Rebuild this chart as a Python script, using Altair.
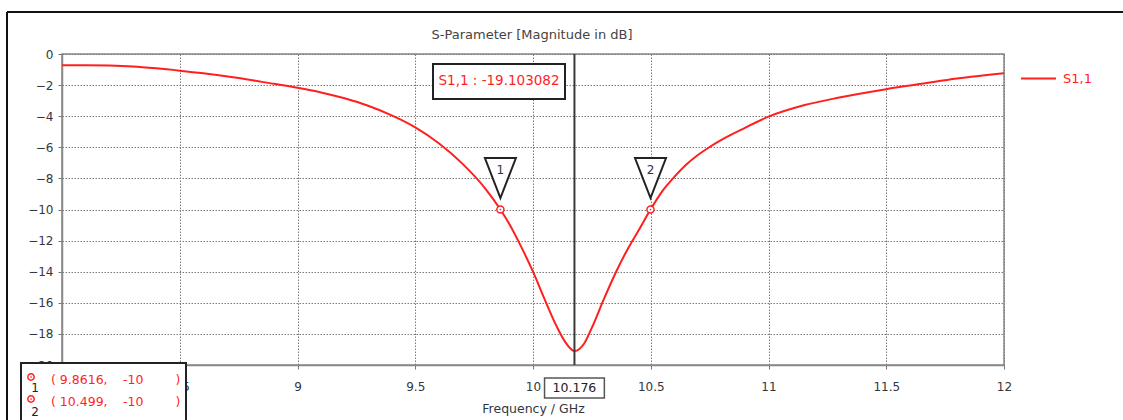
import altair as alt
import pandas as pd

# ---------------- data ----------------
freq = [8.0, 8.1, 8.2, 8.3, 8.4, 8.5, 8.6, 8.75, 8.9, 9.0, 9.1, 9.2, 9.3, 9.4, 9.5,
        9.6, 9.7, 9.8, 9.8616, 9.9, 9.95, 10.0, 10.05, 10.1, 10.136, 10.176,
        10.218, 10.25, 10.3, 10.35, 10.4, 10.45, 10.499, 10.55, 10.6, 10.65, 10.7,
        10.75, 10.8, 10.88, 11.0, 11.15, 11.3, 11.5, 11.65, 11.8, 12.0]
s11 = [-0.72, -0.72, -0.74, -0.80, -0.92, -1.07, -1.24, -1.55, -1.92, -2.17, -2.47,
       -2.85, -3.33, -3.95, -4.72, -5.74, -7.05, -8.70, -10.0, -10.95, -12.4, -14.0,
       -15.8, -17.5, -18.5, -19.103, -18.6, -17.6, -15.8, -14.1, -12.6, -11.3, -10.0,
       -8.8, -7.9, -7.12, -6.5, -5.98, -5.52, -4.90, -4.03, -3.30, -2.80, -2.26,
       -1.92, -1.58, -1.24]
series_name = "S1,1"

x_ticks = [8, 8.5, 9, 9.5, 10, 10.5, 11, 11.5, 12]
y_ticks = [0, -2, -4, -6, -8, -10, -12, -14, -16, -18, -20]

marker_ids = ["1", "2"]
marker_freq = [9.8616, 10.499]
marker_val = [-10, -10]

min_freq = 10.176
min_val = -19.103082

chart_title = "S-Parameter [Magnitude in dB]"
x_title = "Frequency / GHz"

# ---------------- style ----------------
FONT = "DejaVu Sans"
RED = "#ff1f1f"
GRID = "#7a7a7a"
TXT = "#333840"

curve_df = pd.DataFrame({"f": freq, "s": s11, "series": series_name})
mk_df = pd.DataFrame({"id": marker_ids, "f": marker_freq, "s": marker_val})
mk_df["fx"] = [f"( {f}," for f in marker_freq]
mk_df["vy"] = [f"{v}" for v in marker_val]
mk_df["row"] = [0, 1]

xs = alt.Scale(domain=[8, 12], nice=False, zero=False)
ys = alt.Scale(domain=[-20, 0], nice=False, zero=False)

# the "8" label sits fully under the marker table, as in the original
x_axis = alt.Axis(values=x_ticks, format="~g", title=x_title,
                  labelExpr="datum.value == 8 ? '' : datum.label",
                  grid=True, gridDash=[1.5, 1.5], gridColor=GRID, gridWidth=1,
                  tickSize=4, tickColor="#777", labelPadding=12, titlePadding=10,
                  labelFontSize=12, titleFontSize=12.5, labelColor=TXT, titleColor=TXT,
                  titleFontWeight="normal", domainColor="#888", domainWidth=1.5,
                  labelFlush=False, labelFont=FONT, titleFont=FONT)
y_axis = alt.Axis(values=y_ticks, title=None,
                  grid=True, gridDash=[1.5, 1.5], gridColor=GRID, gridWidth=1,
                  tickSize=4, tickColor="#777", labelPadding=5,
                  labelFontSize=12, labelColor=TXT, domainColor="#888", domainWidth=1.5,
                  labelFlush=False, labelFont=FONT)


def X(field):
    return alt.X(field, scale=xs, axis=x_axis)


def row_y(a, b):
    return alt.Y("row:Q", scale=alt.Scale(domain=[0, 1], range=[a, b]), axis=None)


curve = alt.Chart(curve_df).mark_line(strokeWidth=2, interpolate="monotone").encode(
    x=X("f:Q"),
    y=alt.Y("s:Q", scale=ys, axis=y_axis),
    color=alt.Color("series:N", scale=alt.Scale(range=[RED]),
                    legend=alt.Legend(title=None, orient="none", legendX=958, legendY=6,
                                      symbolType="stroke", symbolSize=1225,
                                      symbolStrokeWidth=2, labelColor=RED,
                                      labelFontSize=13, labelFont=FONT, padding=0,
                                      labelOffset=6)),
)

vline = alt.Chart(pd.DataFrame({"f": [min_freq]})).mark_rule(
    color="#3a3a3a", strokeWidth=2).encode(x=X("f:Q"))

circles = alt.Chart(mk_df).mark_circle(size=50, fill="white", stroke=RED,
                                        strokeWidth=1.5, opacity=1).encode(
    x=X("f:Q"), y=alt.Y("s:Q", scale=ys, axis=None))
dots = alt.Chart(mk_df).mark_circle(size=3, color=RED, opacity=1).encode(
    x=X("f:Q"), y=alt.Y("s:Q", scale=ys, axis=None))

tri = alt.Chart(mk_df).mark_point(shape="M -0.775 -1 L 0.775 -1 L 0 1 Z", size=1600,
                                   filled=True, fill="white", stroke="#222",
                                   strokeWidth=2, opacity=1).encode(
    x=X("f:Q"), y=alt.value(124))
tri_txt = alt.Chart(mk_df).mark_text(font=FONT, fontSize=12, color="#334").encode(
    x=X("f:Q"), y=alt.value(116), text="id:N")

# readout box of the minimum
ro_df = pd.DataFrame({"t": [f"{series_name} : {min_val:.6f}"]})
ro_box = alt.Chart(ro_df).mark_rect(fill="white", stroke="#222", strokeWidth=2).encode(
    x=alt.value(371), x2=alt.value(503), y=alt.value(10), y2=alt.value(45))
ro_txt = alt.Chart(ro_df).mark_text(font=FONT, fontSize=13.5, color=RED).encode(
    x=alt.value(437), y=alt.value(27), text="t:N")

# x position box of the minimum
half = 0.127
xb_df = pd.DataFrame({"f": [min_freq], "lo": [min_freq - half], "hi": [min_freq + half],
                      "t": [f"{min_freq:g}"]})
xb_box = alt.Chart(xb_df).mark_rect(fill="white", stroke="#555", strokeWidth=1.5).encode(
    x=X("lo:Q"), x2="hi:Q", y=alt.value(324), y2=alt.value(344))
xb_txt = alt.Chart(xb_df).mark_text(font=FONT, fontSize=12.5, color="#222").encode(
    x=X("f:Q"), y=alt.value(334), text="t:N")

# marker table at bottom left
tb_box = alt.Chart(pd.DataFrame({"a": [0]})).mark_rect(
    fill="white", stroke="#222", strokeWidth=2).encode(
    x=alt.value(-41), x2=alt.value(124), y=alt.value(309), y2=alt.value(372))
tb_fx = alt.Chart(mk_df).mark_text(font=FONT, fontSize=12.5, color=RED, align="left").encode(
    x=alt.value(-11), y=row_y(326, 348), text="fx:N")
tb_vy = alt.Chart(mk_df).mark_text(font=FONT, fontSize=12.5, color=RED, align="left").encode(
    x=alt.value(61), y=row_y(326, 348), text="vy:N")
tb_par = alt.Chart(mk_df).mark_text(font=FONT, fontSize=12.5, color=RED).encode(
    x=alt.value(116), y=row_y(326, 348), text=alt.value(")"))
tb_ico = alt.Chart(mk_df).mark_circle(size=40, fill="white", stroke=RED,
                                       strokeWidth=1.5, opacity=1).encode(
    x=alt.value(-31), y=row_y(323, 345))
tb_dot = alt.Chart(mk_df).mark_circle(size=3, color=RED, opacity=1).encode(
    x=alt.value(-31), y=row_y(323, 345))
tb_num = alt.Chart(mk_df).mark_text(font=FONT, fontSize=12, color="#222").encode(
    x=alt.value(-27), y=row_y(334, 358), text="id:N")

# chart title (as a text mark so the outer frame does not push it away)
ttl = alt.Chart(pd.DataFrame({"t": [chart_title]})).mark_text(
    font=FONT, fontSize=13, color="#444").encode(
    x=alt.value(470), y=alt.value(-19), text="t:N")

# outer frame
frame_l = alt.Chart(pd.DataFrame({"a": [0]})).mark_rule(color="#111", strokeWidth=2).encode(
    x=alt.value(-55), y=alt.value(-42), y2=alt.value(372))
frame_t = alt.Chart(pd.DataFrame({"a": [0]})).mark_rule(color="#111", strokeWidth=2).encode(
    x=alt.value(-55), x2=alt.value(1070), y=alt.value(-42))

chart = alt.layer(
    curve, vline, circles, dots, tri, tri_txt, ro_box, ro_txt,
    xb_box, xb_txt, tb_box, tb_ico, tb_dot, tb_num, tb_fx, tb_vy, tb_par,
    ttl, frame_l, frame_t
).resolve_scale(y="independent").properties(
    width=942, height=311,
    autosize=alt.AutoSizeParams(type="none"),
    padding={"left": 62, "top": 54, "right": 119, "bottom": 55},
).configure(font=FONT).configure_view(stroke="#888", strokeWidth=1.5)

chart.save("out.html", embed_options={"renderer": "svg", "actions": False})
